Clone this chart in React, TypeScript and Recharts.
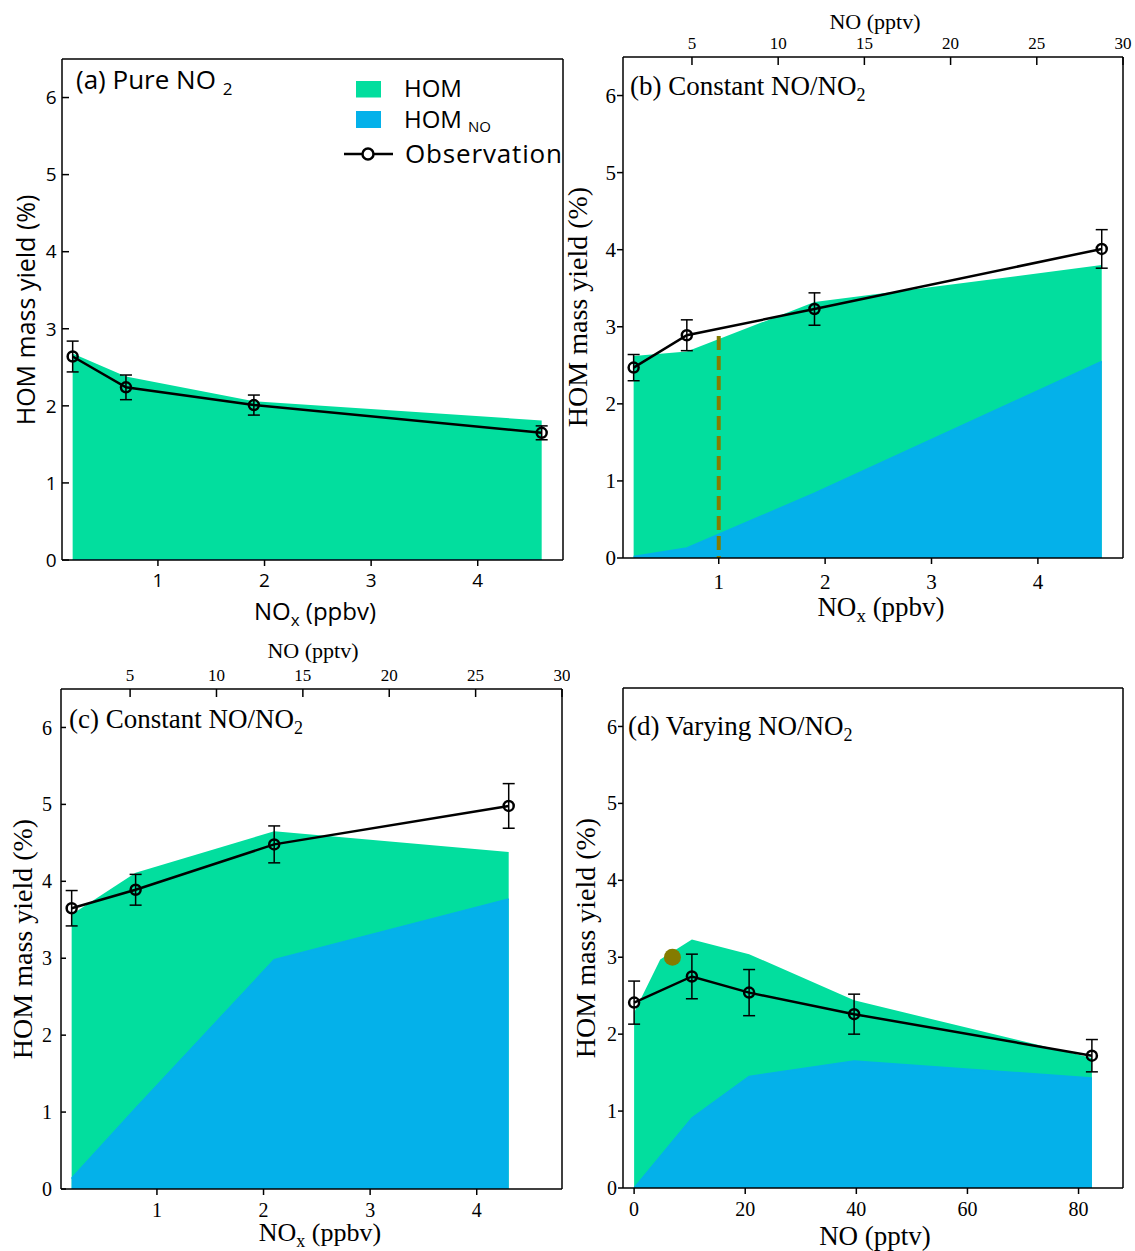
import React from 'react';
import { ComposedChart, Area, Scatter, XAxis, YAxis, ErrorBar, ReferenceLine } from 'recharts';

const GREEN = '#02de9e';
const BLUE = '#04b1ea';
const OLIVE = '#847b00';
const SANS = "'Open Sans', 'DejaVu Sans', sans-serif";
const SERIF = "'Liberation Serif', 'Times New Roman', serif";

const Y_DOMAIN = [0, 6.5];
const Y_TICKS = [0, 1, 2, 3, 4, 5, 6];
const NOX_DOMAIN = [0.1, 4.8];
const NOX_TICKS = [1, 2, 3, 4];
const NO_TOP_DOMAIN = [1, 30];
const NO_TOP_TICKS = [5, 10, 15, 20, 25, 30];
const NO_DOMAIN = [-2, 88];
const NO_TICKS = [0, 20, 40, 60, 80];

// (a) pure NO2
const aNox = [0.2, 0.7, 1.9, 4.6];
const aHom = [2.68, 2.38, 2.06, 1.81];
const aHomNo = [0, 0, 0, 0];
const aObs = [2.64, 2.24, 2.01, 1.65];
const aErr = [0.2, 0.16, 0.13, 0.09];

// (b) constant NO/NO2
const bNox = [0.2, 0.7, 1.9, 4.6];
const bHom = [2.62, 2.68, 3.32, 3.8];
const bHomNo = [0.02, 0.13, 0.84, 2.55];
const bObs = [2.47, 2.89, 3.23, 4.01];
const bErr = [0.17, 0.2, 0.21, 0.25];
const bMarkNox = 1;
const bMarkHom = 2.88;

// (c) constant NO/NO2
const cNox = [0.2, 0.8, 2.1, 4.3];
const cHom = [3.57, 4.11, 4.65, 4.38];
const cHomNo = [0.14, 1.05, 2.98, 3.77];
const cObs = [3.65, 3.89, 4.48, 4.98];
const cErr = [0.23, 0.2, 0.24, 0.29];

// (d) varying NO/NO2
const dModelNo = [0, 4.7, 10.4, 20.7, 39.6, 82.4];
const dHom = [2.28, 2.97, 3.23, 3.04, 2.44, 1.69];
const dHomNo = [0, null, 0.91, 1.45, 1.65, 1.43];
const dObsNo = [0, 10.4, 20.7, 39.6, 82.4];
const dObs = [2.41, 2.75, 2.54, 2.26, 1.72];
const dErr = [0.28, 0.29, 0.3, 0.26, 0.21];
const dDotNo = [6.9];
const dDotHom = [3.0];

const toModel = (xs: number[], hom: number[], homNo: (number | null)[]) =>
  xs.map((x, i) => ({ x, hom: hom[i], homNo: homNo[i] }));
const toObs = (xs: number[], obs: number[], err: number[]) =>
  xs.map((x, i) => ({ x, obs: obs[i], err: err[i] }));

const axisStyle = { stroke: '#000', strokeWidth: 1.5 };

const Ring = (p: any) => (
  <circle cx={p.cx} cy={p.cy} r={5} fill="none" stroke="#000" strokeWidth={2.5} />
);
const Blob = (p: any) => <circle cx={p.cx} cy={p.cy} r={8.5} fill={OLIVE} />;
const Nothing = () => <g />;

function Panel(props: any) {
  const { pos, margin, yW, topH, botH, xDomain, xTicks, topDomain, topTicks, font, tickFont, yTickSize, yTickMargin, xTickMargin, model, obs, children } = props;
  const tick = { fontFamily: font, fontSize: tickFont, fill: '#000' };
  const topDom = topDomain || xDomain;
  // invisible corners so the top / right frame axes get a scale
  const frame = [{ x: topDom[0], f: Y_DOMAIN[0] }, { x: topDom[1], f: Y_DOMAIN[1] }];
  return (
    <div style={{ position: 'absolute', left: pos[0], top: pos[1] }}>
      <ComposedChart width={pos[2]} height={pos[3]} data={model} margin={margin}>
        <XAxis dataKey="x" type="number" domain={xDomain} ticks={xTicks} allowDataOverflow interval={0}
          height={botH} tick={tick} tickSize={6} tickMargin={xTickMargin} axisLine={axisStyle} tickLine={axisStyle} />
        <XAxis xAxisId="top" dataKey="x" orientation="top" type="number" domain={topDom} ticks={topTicks || []} allowDataOverflow interval={0}
          height={topH} tick={topTicks ? { fontFamily: font, fontSize: 17, fill: '#000' } : false}
          tickLine={topTicks ? axisStyle : false} tickSize={-8} tickMargin={16} axisLine={axisStyle} />
        <YAxis type="number" domain={Y_DOMAIN} ticks={Y_TICKS} allowDataOverflow interval={0} width={yW}
          tick={tick} tickSize={yTickSize} tickMargin={yTickMargin} axisLine={axisStyle} tickLine={axisStyle} />
        <YAxis yAxisId="r" orientation="right" type="number" domain={Y_DOMAIN} allowDataOverflow width={1}
          tick={false} tickLine={false} axisLine={axisStyle} />
        <Area dataKey="hom" type="linear" fill={GREEN} fillOpacity={1} stroke="none" isAnimationActive={false} />
        <Area dataKey="homNo" type="linear" fill={BLUE} fillOpacity={1} stroke={BLUE} strokeWidth={1.5}
          connectNulls isAnimationActive={false} />
        {children}
        <Scatter data={obs} dataKey="obs" shape={Ring} line={{ stroke: '#000', strokeWidth: 2.5 }} lineType="joint"
          isAnimationActive={false}>
          <ErrorBar dataKey="err" direction="y" width={6} stroke="#000" strokeWidth={1.5} />
        </Scatter>
        <Scatter xAxisId="top" yAxisId="r" data={frame} dataKey="f" shape={Nothing} legendType="none"
          isAnimationActive={false} />
      </ComposedChart>
    </div>
  );
}

function Sub({ x, y, size, subSize, head, sub, tail, font, anchor = 'start', rotate }: any) {
  return (
    <text x={x} y={y} fontFamily={font} fontSize={size} textAnchor={anchor} fill="#000"
      transform={rotate ? `rotate(-90 ${x} ${y})` : undefined}>
      {head}
      {sub && <tspan fontSize={subSize} dy={6}>{sub}</tspan>}
      {tail && <tspan dy={sub ? -6 : 0}>{tail}</tspan>}
    </text>
  );
}

function Overlay() {
  return (
    <svg width={1135} height={1251} style={{ position: 'absolute', left: 0, top: 0, pointerEvents: 'none' }}>
      {/* panel a */}
      <Sub x={76} y={89} size={26} subSize={17} head="(a) Pure NO " sub="2" font={SANS} />
      <Sub x={35} y={310} size={25} head="HOM mass yield (%)" font={SANS} anchor="middle" rotate />
      <Sub x={315} y={620} size={24} subSize={17} head="NO" sub="x" tail=" (ppbv)" font={SANS} anchor="middle" />
      <rect x={356} y={81} width={25} height={16.5} fill={GREEN} />
      <text x={404} y={97} fontFamily={SANS} fontSize={24}>HOM</text>
      <rect x={356} y={111} width={25} height={17} fill={BLUE} />
      <text x={404} y={128} fontFamily={SANS} fontSize={24}>HOM<tspan fontSize={15} dx={6} dy={4}>NO</tspan></text>
      <line x1={344} x2={393} y1={154} y2={154} stroke="#000" strokeWidth={2.5} />
      <circle cx={368} cy={154} r={5.5} fill="#fff" stroke="#000" strokeWidth={2.5} />
      <text x={405} y={163} fontFamily={SANS} fontSize={26} textLength={157} lengthAdjust="spacing">Observation</text>

      {/* panel b */}
      <Sub x={630} y={95} size={27} subSize={18} head="(b) Constant NO/NO" sub="2" font={SERIF} />
      <Sub x={875} y={29} size={22} head="NO (pptv)" font={SERIF} anchor="middle" />
      <Sub x={587} y={307} size={28} head="HOM mass yield (%)" font={SERIF} anchor="middle" rotate />
      <Sub x={881} y={616} size={27} subSize={19} head="NO" sub="x" tail=" (ppbv)" font={SERIF} anchor="middle" />

      {/* panel c */}
      <Sub x={69} y={728} size={27} subSize={18} head="(c) Constant NO/NO" sub="2" font={SERIF} />
      <Sub x={313} y={658} size={22} head="NO (pptv)" font={SERIF} anchor="middle" />
      <Sub x={32} y={939} size={28} head="HOM mass yield (%)" font={SERIF} anchor="middle" rotate />
      <Sub x={320} y={1241} size={26} subSize={18} head="NO" sub="x" tail=" (ppbv)" font={SERIF} anchor="middle" />

      {/* panel d */}
      <Sub x={628} y={735} size={27} subSize={18} head="(d) Varying NO/NO" sub="2" font={SERIF} />
      <Sub x={595} y={938} size={28} head="HOM mass yield (%)" font={SERIF} anchor="middle" rotate />
      <Sub x={875} y={1245} size={27} head="NO (pptv)" font={SERIF} anchor="middle" />
    </svg>
  );
}

export default function App() {
  const dDots = dDotNo.map((x, i) => ({ x, hom: dDotHom[i] }));
  return (
    <div style={{ position: 'absolute', left: 0, top: 0, width: 1135, height: 1251, background: '#fff', overflow: 'hidden' }}>
      <Panel pos={[0, 0, 570, 630]} margin={{ top: 58, right: 6, bottom: 0, left: 0 }} yW={62} topH={1} botH={70}
        xDomain={NOX_DOMAIN} xTicks={NOX_TICKS} font={SANS} tickFont={19} yTickSize={-7} yTickMargin={12.5} xTickMargin={8}
        model={toModel(aNox, aHom, aHomNo)} obs={toObs(aNox, aObs, aErr)} />
      <Panel pos={[570, 0, 565, 630]} margin={{ top: 2, right: 11, bottom: 0, left: 0 }} yW={53} topH={55} botH={72}
        xDomain={NOX_DOMAIN} xTicks={NOX_TICKS} topDomain={NO_TOP_DOMAIN} topTicks={NO_TOP_TICKS} font={SERIF} tickFont={21}
        yTickSize={6} yTickMargin={1} xTickMargin={10}
        model={toModel(bNox, bHom, bHomNo)} obs={toObs(bNox, bObs, bErr)}>
        <ReferenceLine segment={[{ x: bMarkNox, y: bMarkHom }, { x: bMarkNox, y: 0 }]} stroke={OLIVE} strokeWidth={4}
          strokeDasharray="14 6" />
      </Panel>
      <Panel pos={[0, 630, 570, 621]} margin={{ top: 4, right: 7, bottom: 0, left: 0 }} yW={61} topH={55} botH={62}
        xDomain={NOX_DOMAIN} xTicks={NOX_TICKS} topDomain={NO_TOP_DOMAIN} topTicks={NO_TOP_TICKS} font={SERIF} tickFont={20}
        yTickSize={-5} yTickMargin={14} xTickMargin={8}
        model={toModel(cNox, cHom, cHomNo)} obs={toObs(cNox, cObs, cErr)} />
      <Panel pos={[570, 630, 565, 621]} margin={{ top: 57, right: 11, bottom: 0, left: 0 }} yW={53} topH={1} botH={63}
        xDomain={NO_DOMAIN} xTicks={NO_TICKS} font={SERIF} tickFont={20} yTickSize={5} yTickMargin={1} xTickMargin={8}
        model={toModel(dModelNo, dHom, dHomNo)} obs={toObs(dObsNo, dObs, dErr)}>
        <Scatter data={dDots} dataKey="hom" shape={Blob} isAnimationActive={false} />
      </Panel>
      <Overlay />
    </div>
  );
}
